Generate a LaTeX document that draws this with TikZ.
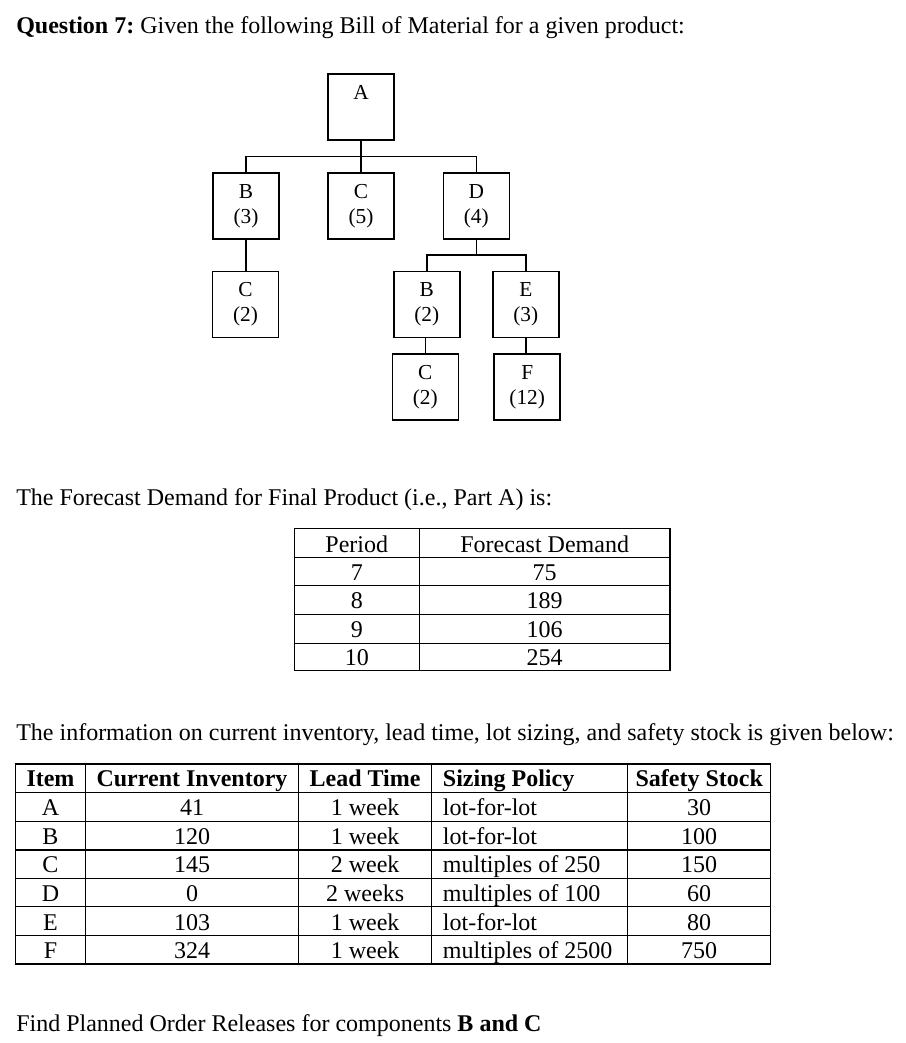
\documentclass[tikz,border=0pt]{standalone}
\usepackage{fontspec}
\setmainfont{Liberation Serif}
\begin{document}
\begin{tikzpicture}[x=0.75pt,y=-0.75pt,
  txt/.style={inner sep=0pt,anchor=base west,font=\fontsize{18}{21}\selectfont},
  cell/.style={inner sep=0pt,anchor=base,font=\fontsize{18}{21}\selectfont},
  lcell/.style={inner sep=0pt,anchor=base west,font=\fontsize{18}{21}\selectfont},
  hcell/.style={inner sep=0pt,anchor=base,font=\fontsize{18}{21}\selectfont\bfseries},
  bom/.style={draw,line width=1.1pt,minimum width=49.5pt,minimum height=49.5pt,inner sep=0pt,align=center,font=\fontsize{16}{18.75}\selectfont},
  link/.style={line width=1.1pt},
  grid/.style={line width=1pt}]
\useasboundingbox (0,0) rectangle (906,1043);

% title
\node[txt] (title) at (16,33.3) {\textbf{Question 7:}~Given the following Bill of Material for a given product:};

% BOM
\node[bom] (A) at (361,107) {A\\\phantom{(0)}};
\node[bom] (B3) at (246,206) {B\\(3)};
\node[bom] (C5) at (361,206) {C\\(5)};
\node[bom] (D4) at (476.3,206) {D\\(4)};
\node[bom] (C2a) at (245.5,304.5) {C\\(2)};
\node[bom] (B2) at (426.8,304.5) {B\\(2)};
\node[bom] (E3) at (525.8,304.5) {E\\(3)};
\node[bom] (C2b) at (425.3,387) {C\\(2)};
\node[bom] (F12) at (527.2,387) {F\\(12)};

\coordinate (busA) at (361,156.7);
\draw[link] (A.south) -- (C5.north);
\draw[link] (busA) -| (B3.north);
\draw[link] (busA) -| (D4.north);
\coordinate (busD) at (476.3,255);
\draw[link] (D4.south) -- (busD);
\draw[link] (busD) -| (B2.north);
\draw[link] (busD) -| (E3.north);
\draw[link] (B3.south) -- (B3.south |- C2a.north);
\draw[link] (C2b.north |- B2.south) -- (C2b.north);
\draw[link] (E3.south) -- (E3.south |- F12.north);

% forecast text
\node[txt] (fc) at (16,505.7) {The Forecast Demand for Final Product (i.e., Part A) is:};

% table 1
\draw[grid] (294.3,528.3) rectangle (670,670.7);
\foreach \y in {557.7,585.5,614.3,643.3} \draw[grid] (294.3,\y) -- (670,\y);
\draw[grid] (419.3,528.3) -- (419.3,670.7);
\node[cell] (p0) at (356.8,552) {Period};
\node[cell] (f0) at (544.7,552) {Forecast Demand};
\node[cell] (p1) at (356.8,580) {7};
\node[cell] (f1) at (544.7,580) {75};
\node[cell] (p2) at (356.8,608.5) {8};
\node[cell] (f2) at (544.7,608.5) {189};
\node[cell] (p3) at (356.8,637.3) {9};
\node[cell] (f3) at (544.7,637.3) {106};
\node[cell] (p4) at (356.8,665) {10};
\node[cell] (f4) at (544.7,665) {254};

% info text
\node[txt] (info) at (16,740.7) {The information on current inventory, lead time, lot sizing, and safety stock is given below:};

% table 2
\draw[grid] (15.7,764) rectangle (770.7,964);
\foreach \y in {792.7,821.3,850,878.3,906.7,935.7} \draw[grid] (15.7,\y) -- (770.7,\y);
\foreach \x in {85.3,298.7,431.5,627.7} \draw[grid] (\x,764) -- (\x,964);

\node[hcell] (h1) at (50.5,786.7) {Item};
\node[hcell] (h2) at (192,786.7) {Current Inventory};
\node[hcell] (h3) at (365.1,786.7) {Lead Time};
\node[inner sep=0pt,anchor=base west,font=\fontsize{18}{21}\selectfont\bfseries] (h4) at (442.7,786.7) {Sizing Policy};
\node[hcell] (h5) at (699.2,786.7) {Safety Stock};

\foreach \r/\yb/\it/\inv/\lt/\sp/\ss in {
  1/815.8/A/41/1 week/lot-for-lot/30,
  2/844.5/B/120/1 week/lot-for-lot/100,
  3/872.8/C/145/2 week/multiples of 250/150,
  4/901.2/D/0/2 weeks/multiples of 100/60,
  5/930.2/E/103/1 week/lot-for-lot/80,
  6/958.5/F/324/1 week/multiples of 2500/750}{
  \node[cell] (it\r) at (50.5,\yb) {\it};
  \node[cell] (inv\r) at (192,\yb) {\inv};
  \node[cell] (lt\r) at (365.1,\yb) {\lt};
  \node[lcell] (sp\r) at (442.7,\yb) {\sp};
  \node[cell] (ss\r) at (699.2,\yb) {\ss};
}

% final text
\node[txt] (find) at (16,1031.7) {Find Planned Order Releases for components \textbf{B and C}};
\end{tikzpicture}
\end{document}
